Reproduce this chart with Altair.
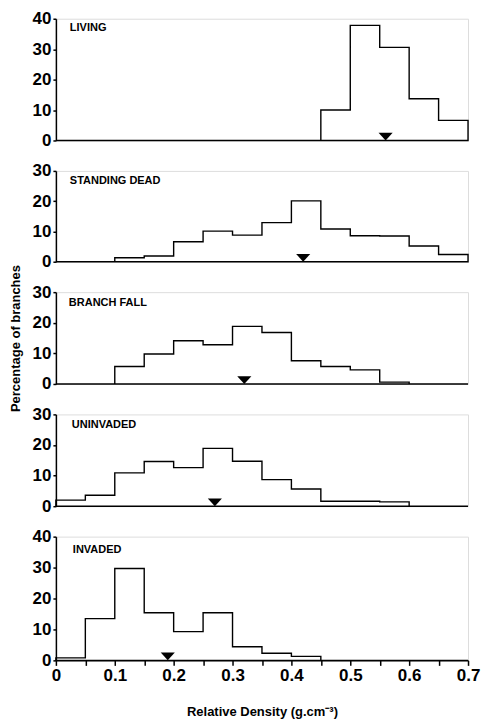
import altair as alt
import pandas as pd

edges = [0.0, 0.05, 0.1, 0.15, 0.2, 0.25, 0.3, 0.35, 0.4, 0.45, 0.5, 0.55, 0.6, 0.65, 0.7]
tick_vals = [0.0, 0.05, 0.1, 0.15, 0.2, 0.25, 0.3, 0.35, 0.4, 0.45, 0.5, 0.55, 0.6, 0.65, 0.7]

names = ["LIVING", "STANDING DEAD", "BRANCH FALL", "UNINVADED", "INVADED"]
living = [0, 0, 0, 0, 0, 0, 0, 0, 0, 10.0, 37.8, 30.6, 13.7, 6.6]
standing = [0, 0, 1.3, 1.9, 6.6, 10.1, 8.8, 12.9, 20.1, 10.8, 8.6, 8.5, 5.2, 2.4]
branch = [0, 0, 5.7, 9.8, 14.1, 12.8, 18.8, 16.8, 7.6, 5.7, 4.6, 0.6, 0, 0]
uninvaded = [2.0, 3.6, 10.9, 14.6, 12.6, 18.9, 14.7, 8.7, 5.6, 1.6, 1.6, 1.4, 0, 0]
invaded = [0.8, 13.5, 29.7, 15.4, 9.3, 15.4, 4.4, 2.3, 1.3, 0, 0, 0, 0, 0]
means = [0.56, 0.42, 0.32, 0.27, 0.19]
ymaxes = [40, 30, 30, 30, 40]
y_ticks_40 = [0, 10, 20, 30, 40]
y_ticks_30 = [0, 10, 20, 30]
series = [living, standing, branch, uninvaded, invaded]

heights = [122, 91, 92, 92, 124]
label_pos = [(14, 9), (14, 10), (13, 11), (16, 11), (17, 13)]

FONT = "Liberation Sans"
W = 413


def panel(i):
    vals = series[i]
    ymax = ymaxes[i]
    bottom = i == 4
    df = pd.DataFrame({"x": edges, "y": vals + [vals[-1]], "base": [0] * len(edges)})

    if bottom:
        xaxis = alt.Axis(
            values=tick_vals,
            labelExpr="(round(datum.value*100) % 10 == 0) ? (datum.value == 0 ? '0' : format(datum.value, '.1f')) : ''",
            title="Relative Density (g.cm⁻³)",
            titleFont=FONT, titleFontSize=13, titleFontWeight="bold", titleColor="black",
            titlePadding=22,
            labelFont=FONT, labelFontSize=17, labelFontWeight="bold", labelColor="black",
            labelPadding=2, labelFlush=False, labelOverlap=False,
            tickSize=5, tickColor="black", tickWidth=1.5,
            domainColor="black", domainWidth=1.5, grid=False,
        )
    else:
        xaxis = None

    yaxis_kwargs = dict(
        values=y_ticks_40 if ymax == 40 else y_ticks_30,
        labelFont=FONT, labelFontSize=17, labelFontWeight="bold", labelColor="black",
        labelPadding=2, labelFlush=False, labelOverlap=False,
        tickSize=3, tickColor="black", tickWidth=1.5,
        domainColor="black", domainWidth=1.5, grid=False,
    )
    if i == 2:
        yaxis = alt.Axis(title="Percentage of branches", titleFont=FONT, titleFontSize=13,
                         titleFontWeight="bold", titleColor="black", titlePadding=10,
                         **yaxis_kwargs)
    else:
        yaxis = alt.Axis(title=None, **yaxis_kwargs)

    xs = alt.Scale(domain=[0, 0.7], nice=False, zero=False)
    ys = alt.Scale(domain=[0, ymax], nice=False)

    hist = alt.Chart(df).mark_area(
        interpolate="step-after", stroke="black", strokeWidth=1.4, fillOpacity=0, color="white"
    ).encode(
        x=alt.X("x:Q", scale=xs, axis=xaxis),
        y=alt.Y("y:Q", scale=ys, axis=yaxis),
        y2="base:Q",
    )

    mdf = pd.DataFrame({"x": [means[i]], "y": [0]})
    tri = alt.Chart(mdf).mark_point(
        shape="M-1,-1.1L1,-1.1L0,0Z", filled=True, color="black", size=200, opacity=1
    ).encode(x=alt.X("x:Q", scale=xs, axis=xaxis), y=alt.Y("y:Q", scale=ys, axis=yaxis))

    lx, ly = label_pos[i]
    tdf = pd.DataFrame({"t": [names[i]]})
    txt = alt.Chart(tdf).mark_text(
        font=FONT, fontSize=11, fontWeight="bold", color="black", align="left", baseline="middle"
    ).encode(x=alt.value(lx), y=alt.value(ly), text="t:N")

    return alt.layer(hist, tri, txt).properties(width=W, height=heights[i])


chart = alt.vconcat(*[panel(i) for i in range(5)], spacing=30.5, bounds="flush").properties(
    padding={"left": 0, "right": 0, "top": 0, "bottom": 0}
).configure_view(stroke="transparent").configure(background="white")

chart.save("out.html", embed_options={"renderer": "svg", "actions": False})
